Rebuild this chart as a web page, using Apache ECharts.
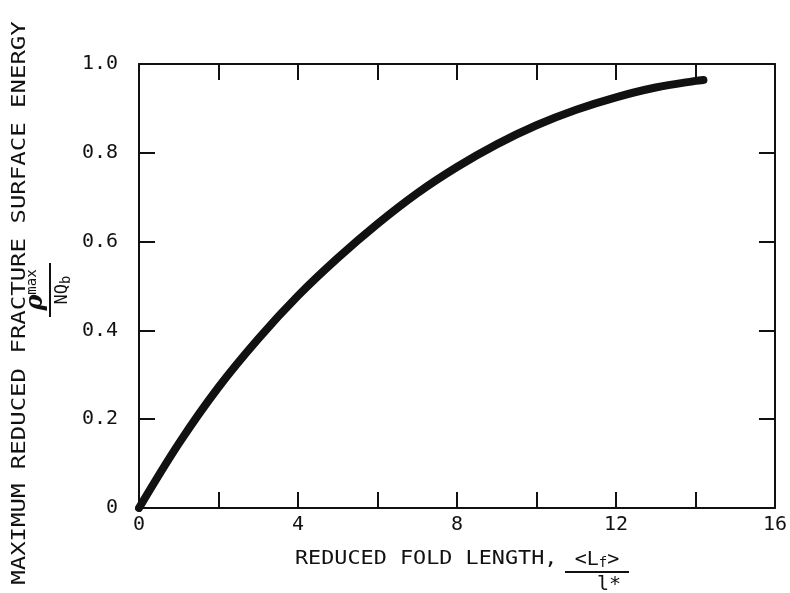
<!DOCTYPE html>
<html>
<head>
<meta charset="utf-8">
<script src="https://cdn.jsdelivr.net/npm/echarts@6/dist/echarts.min.js"></script>
<style>
  html, body { margin: 0; padding: 0; background: #fff; }
  #main { width: 790px; height: 593px; }
</style>
</head>
<body>
<div id="main"></div>
<script>
// reduced fold length <Lf>/l*
const foldLength = [0, 1, 2, 3, 4, 5, 6, 7, 8, 9, 10, 11, 12, 13, 14, 14.2];
// maximum reduced fracture surface energy rho_max / NQb
const surfaceEnergy = [0, 0.145, 0.272, 0.381, 0.478, 0.563, 0.64, 0.709, 0.768, 0.819, 0.862, 0.897, 0.925, 0.947, 0.962, 0.964];
const xTicks = [0, 4, 8, 12, 16];
const yTicks = [0, 0.2, 0.4, 0.6, 0.8, 1.0];

const FONT = '"DejaVu Sans Mono", monospace';
const INK = '#111';

const myChart = echarts.init(document.getElementById('main'), null, {renderer: 'canvas'});

const axisLine = { show: true, onZero: false, lineStyle: { color: INK, width: 2 } };
const tick = { show: true, inside: true, length: 16, lineStyle: { color: INK, width: 2 } };

const option = {
    animation: false,
    grid: { left: 139, right: 15, top: 64, bottom: 85 },
    xAxis: [
        {
            type: 'value', min: 0, max: 16, interval: 2,
            axisLine, axisTick: tick, splitLine: { show: false },
            axisLabel: {
                margin: 7, color: INK, fontFamily: FONT, fontSize: 20,
                formatter: v => xTicks.includes(v) ? String(v) : ''
            }
        },
        {
            type: 'value', position: 'top', min: 0, max: 16, interval: 2,
            axisLine, axisTick: tick, splitLine: { show: false },
            axisLabel: { show: false }
        }
    ],
    yAxis: [
        {
            type: 'value', min: 0, max: 1, interval: 0.2,
            axisLine, axisTick: tick, splitLine: { show: false },
            axisLabel: {
                margin: 21, color: INK, fontFamily: FONT, fontSize: 20,
                formatter: v => {
                    const t = yTicks.find(k => Math.abs(k - v) < 1e-6);
                    if (t === undefined) return '';
                    return t === 0 ? '0' : t.toFixed(1);
                }
            }
        },
        {
            type: 'value', position: 'right', min: 0, max: 1, interval: 0.2,
            axisLine, axisTick: tick, splitLine: { show: false },
            axisLabel: { show: false }
        }
    ],
    series: [{
        type: 'line',
        data: foldLength.map((x, i) => [x, surfaceEnergy[i]]),
        smooth: 0.35,
        showSymbol: false,
        lineStyle: { color: INK, width: 8, cap: 'round' }
    }],
    graphic: [
        // y axis title, reads bottom to top
        {
            type: 'text', x: 20, y: 303, rotation: Math.PI / 2, scaleX: 1.2,
            style: {
                text: 'MAXIMUM REDUCED FRACTURE SURFACE ENERGY',
                font: '20px ' + FONT, fill: INK,
                textAlign: 'center', textVerticalAlign: 'middle'
            }
        },
        {
            type: 'group', x: 50, y: 290, rotation: Math.PI / 2,
            children: [
                { type: 'line', shape: { x1: -27, y1: 0, x2: 27, y2: 0 }, style: { stroke: INK, lineWidth: 2 } },
                {
                    type: 'text', x: 0, y: -2,
                    style: {
                        text: '{r|ρ}{s|max}',
                        textAlign: 'center', textVerticalAlign: 'bottom',
                        rich: {
                            r: { font: 'italic bold 24px "DejaVu Serif", serif', fill: INK },
                            s: { font: '14px ' + FONT, fill: INK, padding: [0, 0, 8, 0] }
                        }
                    }
                },
                {
                    type: 'text', x: 0, y: 3,
                    style: {
                        text: '{n|NQ}{b|b}',
                        textAlign: 'center', textVerticalAlign: 'top',
                        rich: {
                            n: { font: '17px ' + FONT, fill: INK },
                            b: { font: '14px ' + FONT, fill: INK, padding: [6, 0, 0, 0] }
                        }
                    }
                }
            ]
        },
        // x axis title
        {
            type: 'text', x: 295, y: 559, scaleX: 1.09,
            style: {
                text: 'REDUCED FOLD LENGTH,',
                font: '20px ' + FONT, fill: INK,
                textAlign: 'left', textVerticalAlign: 'middle'
            }
        },
        {
            type: 'group', x: 597, y: 572,
            children: [
                { type: 'line', shape: { x1: -32, y1: 0, x2: 32, y2: 0 }, style: { stroke: INK, lineWidth: 2 } },
                {
                    type: 'text', x: 0, y: -2,
                    style: {
                        text: '{n|<L}{s|f}{n|>}',
                        textAlign: 'center', textVerticalAlign: 'bottom',
                        rich: {
                            n: { font: '20px ' + FONT, fill: INK },
                            s: { font: '14px ' + FONT, fill: INK, padding: [6, 0, 0, 0] }
                        }
                    }
                },
                {
                    type: 'text', x: 12, y: 3,
                    style: {
                        text: 'l*', font: '20px ' + FONT, fill: INK,
                        textAlign: 'center', textVerticalAlign: 'top'
                    }
                }
            ]
        }
    ]
};

myChart.setOption(option);
</script>
</body>
</html>
